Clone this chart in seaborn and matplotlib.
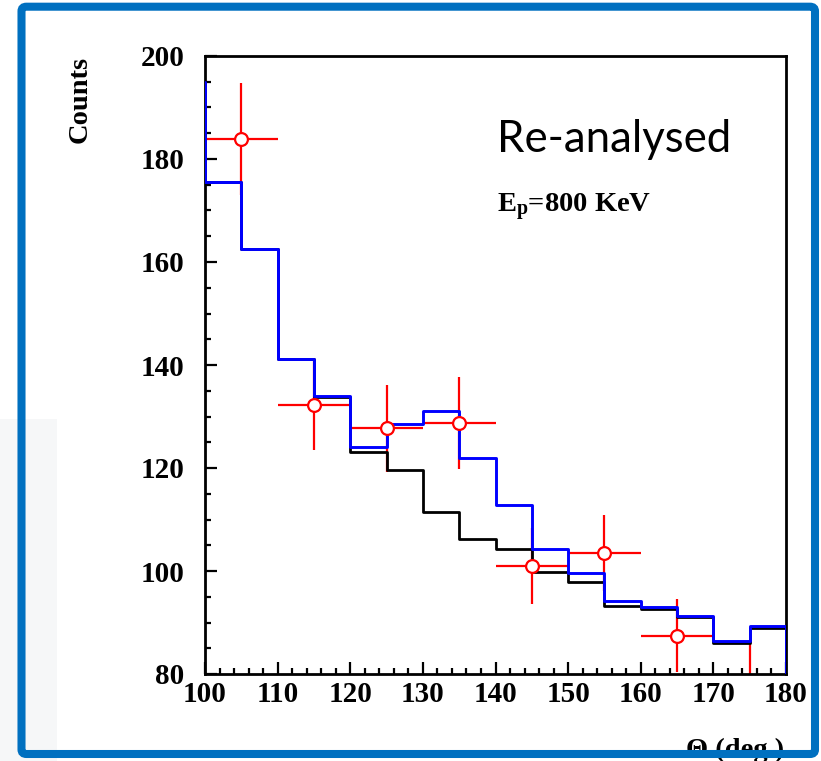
import numpy as np
import pandas as pd
import seaborn as sns
import matplotlib
matplotlib.use("Agg")
import matplotlib.pyplot as plt
from matplotlib.patches import FancyBboxPatch, Rectangle
from matplotlib.ticker import MultipleLocator

# ---------------- data ----------------
bin_edges = [95, 100, 105, 110, 115, 120, 125, 130, 135, 140, 145, 150, 155, 160, 165, 170, 175, 180, 185]
blue_counts = [195.0, 175.6, 162.6, 141.2, 133.9, 124.1, 128.5, 131.1, 121.9, 112.8,
               104.2, 99.7, 94.2, 93.1, 91.3, 86.4, 89.3, 0.0]
black_counts = [195.0, 175.6, 162.6, 141.2, 133.7, 123.2, 119.6, 111.5, 106.2, 104.2,
                99.9, 97.9, 93.3, 92.6, 91.0, 86.1, 89.0, 0.0]
data_theta = [105, 115, 125, 135, 145, 155, 165, 175]
data_counts = [183.9, 132.2, 127.7, 128.8, 101.0, 103.5, 87.4, 78.5]
data_err = [10.8, 8.7, 8.4, 8.9, 7.4, 7.4, 7.1, 8.0]
data_xerr = [5, 5, 5, 5, 5, 5, 5, 5]
x_ticks = [100, 110, 120, 130, 140, 150, 160, 170, 180]
y_ticks = [80, 100, 120, 140, 160, 180, 200]

centers = [(a + b) / 2 for a, b in zip(bin_edges[:-1], bin_edges[1:])]
df_hist = pd.DataFrame({"theta": centers, "blue": blue_counts, "black": black_counts})
df_pts = pd.DataFrame({"theta": data_theta, "counts": data_counts})

# ---------------- style ----------------
sns.set_theme(style="white")
plt.rcParams["font.family"] = ["Liberation Serif", "DejaVu Serif"]
plt.rcParams["mathtext.fontset"] = "custom"
plt.rcParams["mathtext.rm"] = "Liberation Serif:bold"
plt.rcParams["mathtext.bf"] = "Liberation Serif:bold"
plt.rcParams["mathtext.it"] = "Liberation Serif:bold"

W, H = 821, 761
fig = plt.figure(figsize=(W / 100, H / 100), dpi=100)
fig.patch.set_facecolor("white")

# faint grey strip at the lower left (slide background)
fig.patches.append(Rectangle((0, 0), 57 / W, 0.45, transform=fig.transFigure,
                             facecolor="#f6f7f8", edgecolor="none", zorder=0))

ax = fig.add_axes([205 / W, 1 - 674 / H, (786 - 205) / W, (674 - 56) / H])
ax.set_facecolor("white")

# error bars (under histograms)
ax.errorbar(data_theta, data_counts, yerr=data_err, xerr=data_xerr, fmt="none",
            ecolor="#ff0000", elinewidth=1.6, capsize=0, zorder=1)

sns.histplot(data=df_hist, x="theta", weights="black", bins=bin_edges, element="step",
             fill=False, color="black", linewidth=2.0, ax=ax, zorder=2)
sns.histplot(data=df_hist, x="theta", weights="blue", bins=bin_edges, element="step",
             fill=False, color="#0000ff", linewidth=2.1, ax=ax, zorder=3)

sns.scatterplot(data=df_pts, x="theta", y="counts", marker="o", s=85,
                facecolor="white", edgecolor="#ff0000", linewidth=1.6, ax=ax, zorder=4)

ax.set_xlim(100, 180)
ax.set_ylim(80, 200)
ax.set_xlabel("")
ax.set_ylabel("")

ax.set_xticks(x_ticks)
ax.set_yticks(y_ticks)
ax.xaxis.set_minor_locator(MultipleLocator(2))
ax.yaxis.set_minor_locator(MultipleLocator(5))
ax.tick_params(axis="both", which="both", direction="in", bottom=True, left=True,
               top=False, right=False, width=1.6, color="black")
ax.tick_params(axis="both", which="major", length=8.8, labelsize=21)
ax.tick_params(axis="both", which="minor", length=4.4)
ax.tick_params(axis="x", which="major", pad=5)
ax.tick_params(axis="y", which="major", pad=15)
for lab in ax.get_xticklabels() + ax.get_yticklabels():
    lab.set_fontweight("bold")
    lab.set_color("black")

for sp in ax.spines.values():
    sp.set_visible(True)
    sp.set_color("black")
    sp.set_linewidth(2.0)
    sp.set_zorder(1.5)

# axis titles (ROOT style)
fig.text(80 / W, 1 - 56 / H, "Counts", rotation=90, ha="center", va="top",
         fontsize=20.5, fontweight="bold", color="black")
ax.text(0.9966, (674 - 757) / (674 - 56), "Θ (deg.)", transform=ax.transAxes,
        ha="right", va="baseline", fontsize=20.5, fontweight="bold", color="black",
        clip_on=False)

# annotations
ax.text((497 - 205) / 581, (674 - 151.7) / 618, "Re-analysed", transform=ax.transAxes,
        ha="left", va="baseline", fontsize=31.5, family=["Lato", "DejaVu Sans"], color="black")
ax.text((497 - 205) / 581, (674 - 211.7) / 618, r"$\mathbf{E_p}$=800 KeV",
        transform=ax.transAxes, ha="left", va="baseline", fontsize=20.5,
        fontweight="bold", color="black")

# slide frame
frame = FancyBboxPatch((21.5 / W, 1 - 754 / H), (815 - 21.5) / W, (754 - 6.7) / H,
                       boxstyle="round,pad=0,rounding_size=0.006",
                       transform=fig.transFigure, facecolor="none",
                       edgecolor="#0070c0", linewidth=5.8, zorder=10)
fig.patches.append(frame)

fig.savefig("out.png", dpi=100)
